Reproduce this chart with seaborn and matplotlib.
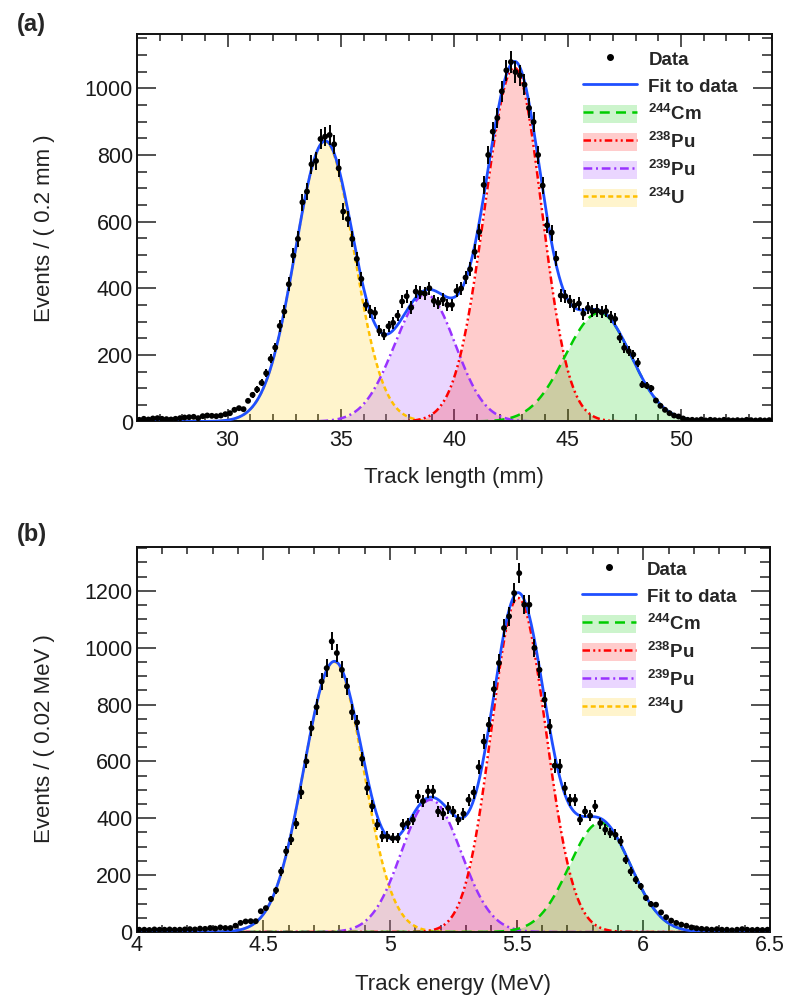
import numpy as np
import pandas as pd
import matplotlib
matplotlib.use("Agg")
import matplotlib.pyplot as plt
import seaborn as sns
from matplotlib.lines import Line2D
from matplotlib.patches import Patch
from matplotlib.ticker import MultipleLocator, FuncFormatter

# ---------------- data: panel (a) track length, 0.2 mm bins from 26 mm ----------------
len_bin_start = 26.0
len_bin_width = 0.2
len_counts = [
    5, 8, 6, 9, 10, 8, 7, 6, 8, 10,
    12, 13, 14, 10, 16, 18, 17, 16, 18, 22,
    25, 35, 40, 37, 62, 80, 96, 116, 145, 188,
    222, 287, 330, 412, 498, 548, 658, 690, 772, 782,
    848, 855, 860, 832, 760, 630, 608, 548, 488, 428,
    350, 330, 326, 272, 260, 286, 296, 318, 360, 376,
    342, 390, 386, 384, 400, 362, 356, 366, 350, 350,
    392, 399, 432, 457, 509, 569, 710, 800, 870, 911,
    991, 1054, 1079, 1049, 1039, 1011, 941, 899, 800, 708,
    589, 567, 489, 378, 376, 361, 348, 354, 324, 341,
    331, 333, 328, 331, 314, 308, 251, 221, 211, 201,
    176, 110, 107, 100, 63, 47, 35, 25, 18, 15,
    9, 5, 5, 4, 6, 3, 5, 4, 3, 5,
    4, 3, 4, 3, 5, 4, 3, 4, 3, 4,
]

# ---------------- data: panel (b) track energy, 0.02 MeV bins from 4 MeV ----------------
en_bin_start = 4.0
en_bin_width = 0.02
en_counts = [
    8, 8, 7, 9, 8, 8, 9, 8, 8, 9, 10, 9, 12, 11,
    14, 12, 16, 14, 14, 22, 32, 37, 38, 38,
    73, 84, 116, 147, 213, 284, 325, 381, 491, 600,
    717, 791, 881, 928, 1022, 981, 922, 864, 773, 737,
    609, 506, 442, 377, 336, 336, 330, 330, 377, 383,
    395, 477, 460, 495, 495, 424, 416, 436, 424, 395,
    416, 465, 491, 580, 670, 729, 854, 946, 1069, 1110,
    1192, 1262, 1151, 1151, 999, 922, 817, 723, 585, 583,
    506, 465, 465, 395, 424, 409, 442, 383, 360, 348,
    342, 319, 254, 213, 184, 161, 120, 98, 96, 69,
    52, 40, 32, 26, 22, 16, 13, 11, 10, 8,
    10, 8, 8, 6, 8, 10, 8, 7, 8, 7, 8,
]

# ---------------- fitted components (bifurcated Gaussians) ----------------
components = ["244Cm", "238Pu", "239Pu", "234U"]
comp_labels = [r"$^{\mathbf{244}}$Cm", r"$^{\mathbf{238}}$Pu",
               r"$^{\mathbf{239}}$Pu", r"$^{\mathbf{234}}$U"]
len_amp = [326, 1062, 381, 840]
len_mean = [46.4, 42.65, 38.75, 34.3]
len_sig_left = [1.5, 1.3, 1.38, 1.32]
len_sig_right = [1.4, 1.2, 1.3, 1.28]

en_amp = [385, 1175, 465, 950]
en_mean = [5.83, 5.505, 5.16, 4.78]
en_sig_left = [0.122, 0.105, 0.115, 0.12]
en_sig_right = [0.12, 0.11, 0.12, 0.115]

len_xlim = (26, 54)
len_ylim = (0, 1163)
en_xlim = (4.0, 6.5)
en_ylim = (0, 1354)

# ---------------- styles ----------------
line_colors = ["#00cc00", "#ff0000", "#9933ff", "#ffc000"]
fill_colors = ["#00cc00", "#ff0000", "#9933ff", "#ffcc00"]
line_dashes = [[4, 2.5], [3, 1.3, 0.8, 1.3, 0.8, 1.3], [3.5, 1.5, 0.8, 1.5], [2, 1.3]]
fit_color = "#1f4fff"

sns.set_theme(style="ticks")
plt.rcParams["font.family"] = ["Liberation Sans", "DejaVu Sans"]
plt.rcParams["mathtext.fontset"] = "custom"
plt.rcParams["mathtext.rm"] = "Liberation Sans"
plt.rcParams["mathtext.bf"] = "Liberation Sans:bold"
plt.rcParams["mathtext.it"] = "Liberation Sans:italic"

W, H = 787, 997
fig = plt.figure(figsize=(W / 100, H / 100), dpi=100)


def bifur(x, amp, mu, sl, sr):
    s = np.where(x < mu, sl, sr)
    return amp * np.exp(-0.5 * ((x - mu) / s) ** 2)


def draw_panel(ax, start, width, counts, amp, mean, sl, sr, xlim, ylim,
               xmaj, xmin, xpad, legend_y):
    counts = np.asarray(counts, dtype=float)
    centers = start + width * (np.arange(len(counts)) + 0.5)
    xf = np.linspace(xlim[0], xlim[1], 1500)
    comps = [bifur(xf, amp[i], mean[i], sl[i], sr[i]) for i in range(4)]
    total = np.sum(comps, axis=0)

    # fills: draw U, Pu239, Pu238, Cm
    for i in [3, 2, 1, 0]:
        ax.fill_between(xf, 0, comps[i], color=fill_colors[i], alpha=0.2,
                        linewidth=0, zorder=1)
    for i in [3, 2, 1, 0]:
        ax.plot(xf, comps[i], color=line_colors[i], lw=1.8,
                dashes=line_dashes[i], zorder=2)
    df_fit = pd.DataFrame({"x": xf, "y": total})
    sns.lineplot(data=df_fit, x="x", y="y", color=fit_color, lw=2.0,
                 ax=ax, zorder=3, sort=False, estimator=None)

    ax.errorbar(centers, counts, yerr=np.sqrt(counts), fmt="none",
                ecolor="black", elinewidth=1.4, capsize=0, zorder=4)
    df_pts = pd.DataFrame({"x": centers, "y": counts})
    sns.scatterplot(data=df_pts, x="x", y="y", color="black", s=18,
                    edgecolor="none", ax=ax, zorder=5)

    ax.set_xlim(*xlim)
    ax.set_ylim(*ylim)
    ax.set_xlabel("")
    ax.set_ylabel("")
    ax.xaxis.set_major_locator(MultipleLocator(xmaj))
    ax.xaxis.set_minor_locator(MultipleLocator(xmin))
    ax.yaxis.set_major_locator(MultipleLocator(200))
    ax.yaxis.set_minor_locator(MultipleLocator(50))
    ax.xaxis.set_major_formatter(FuncFormatter(lambda v, p: f"{v:g}"))
    ax.tick_params(which="both", direction="in", top=True, right=True,
                   colors="#222222", labelcolor="#1a1a1a", labelsize=15.5)
    ax.tick_params(axis="x", which="major", length=9, width=1.1, pad=xpad)
    ax.tick_params(axis="x", which="minor", length=5, width=1.1)
    ax.tick_params(axis="y", which="major", length=13.5, width=1.1, pad=3)
    ax.tick_params(axis="y", which="minor", length=7, width=1.1)
    for sp in ax.spines.values():
        sp.set_linewidth(1.4)
        sp.set_color("#111111")

    handles = [Line2D([], [], marker="o", markersize=4, color="black",
                      linestyle="none"),
               Line2D([], [], color=fit_color, lw=2.0)]
    for i in range(4):
        handles.append((Patch(facecolor=fill_colors[i], alpha=0.2, edgecolor="none"),
                        Line2D([], [], color=line_colors[i], lw=1.8,
                               dashes=line_dashes[i])))
    labels = ["Data", "Fit to data"] + comp_labels
    ax.legend(handles, labels, loc="upper left",
              bbox_to_anchor=(0.7025, legend_y), frameon=False,
              prop={"weight": "bold", "size": 13.5},
              borderpad=0, borderaxespad=0, handlelength=2.9,
              handleheight=1.1, handletextpad=0.6, labelspacing=0.42,
              numpoints=1)


axA = fig.add_axes([137 / W, 1 - 421.5 / H, (771.5 - 137) / W, (421.5 - 34) / H])
axB = fig.add_axes([136.7 / W, 1 - 932 / H, (770 - 136.7) / W, (932 - 547) / H])

draw_panel(axA, len_bin_start, len_bin_width, len_counts, len_amp, len_mean,
           len_sig_left, len_sig_right, len_xlim, len_ylim, 5, 1, 6, 0.96)
draw_panel(axB, en_bin_start, en_bin_width, en_counts, en_amp, en_mean,
           en_sig_left, en_sig_right, en_xlim, en_ylim, 0.5, 0.1, 2, 0.968)

fig.text(17 / W, 1 - 24 / H, "(a)", fontsize=17, fontweight="bold",
         ha="left", va="center")
fig.text(17 / W, 1 - 535 / H, "(b)", fontsize=17, fontweight="bold",
         ha="left", va="center")
fig.text(45 / W, 1 - 228 / H, "Events / ( 0.2 mm )", rotation=90,
         fontsize=16, ha="center", va="center", color="#222222")
fig.text(45 / W, 1 - 739 / H, "Events / ( 0.02 MeV )", rotation=90,
         fontsize=16, ha="center", va="center", color="#222222")
fig.text(454 / W, 1 - 478 / H, "Track length (mm)", fontsize=16,
         ha="center", va="center", color="#222222")
fig.text(453 / W, 1 - 984 / H, "Track energy (MeV)", fontsize=16,
         ha="center", va="center", color="#222222")

fig.savefig("out.png", dpi=100)
